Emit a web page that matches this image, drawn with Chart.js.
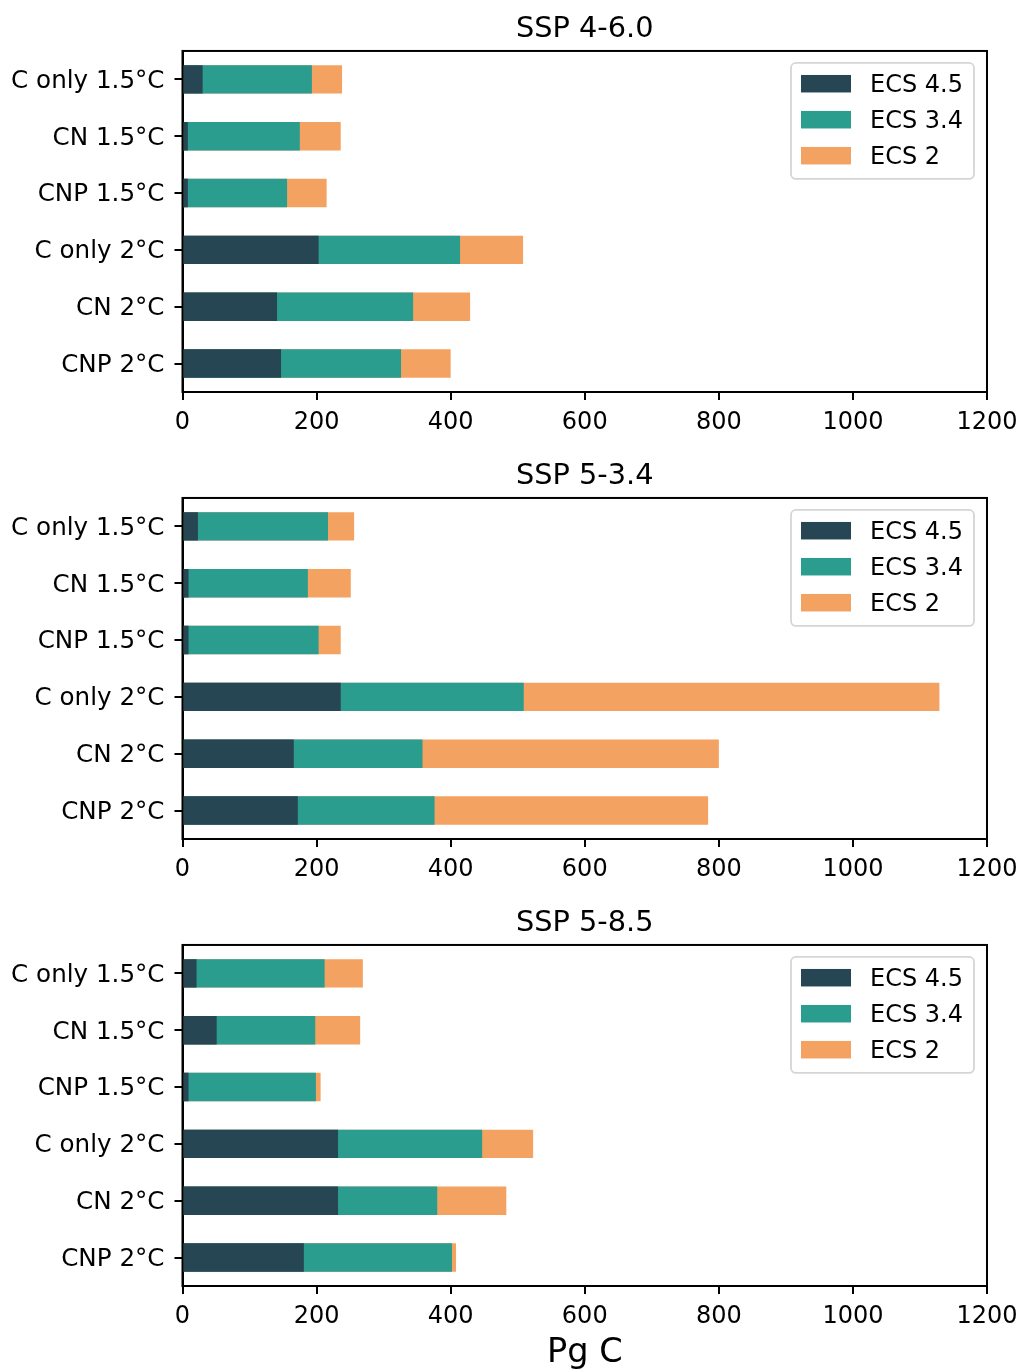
<!DOCTYPE html>
<html>
<head>
<meta charset="utf-8">
<title>Land carbon removal</title>
<script src="https://cdn.jsdelivr.net/npm/chart.js@4.4.1/dist/chart.umd.min.js"></script>
<style>
    body { margin: 0; background: #fff; }
    canvas { position: absolute; left: 0; }
</style>
</head>
<body>
<canvas id="ssp460" width="1021" height="447" style="top:0px"></canvas>
<canvas id="ssp534" width="1021" height="447" style="top:447px"></canvas>
<canvas id="ssp585" width="1021" height="476" style="top:894px"></canvas>
<script>
'use strict';

var categories = [ 'C only 1.5°C', 'CN 1.5°C', 'CNP 1.5°C', 'C only 2°C', 'CN 2°C', 'CNP 2°C' ];
var seriesLabels = [ 'ECS 4.5', 'ECS 3.4', 'ECS 2' ];
var xTicks = [ 0, 200, 400, 600, 800, 1000, 1200 ];

// SSP 4-6.0
var ssp460_ecs45 = [ 30, 8, 8, 203, 141, 147 ];
var ssp460_ecs34 = [ 193, 175, 156, 414, 344, 326 ];
var ssp460_ecs2 = [ 238, 236, 215, 508, 429, 400 ];

// SSP 5-3.4
var ssp534_ecs45 = [ 23, 9, 9, 236, 166, 172 ];
var ssp534_ecs34 = [ 217, 187, 203, 509, 358, 376 ];
var ssp534_ecs2 = [ 256, 251, 236, 1129, 800, 784 ];

// SSP 5-8.5
var ssp585_ecs45 = [ 21, 51, 9, 232, 232, 181 ];
var ssp585_ecs34 = [ 212, 198, 199, 447, 380, 402 ];
var ssp585_ecs2 = [ 269, 265, 206, 523, 483, 408 ];

var colors = [ '#264653', '#2a9d8f', '#f4a261' ];
var FONT = 'DejaVu Sans';

// box around the plot area and a legend in the upper right corner
var frameAndLegend = {
    id: 'frameAndLegend',
    afterDraw: function( chart ) {
        var ctx = chart.ctx;
        var a = chart.chartArea;
        ctx.save();
        ctx.strokeStyle = '#000';
        ctx.lineWidth = 2;
        ctx.strokeRect( a.left, a.top, a.right - a.left, a.bottom - a.top );

        // legend frame
        var fx = a.right - 196, fy = a.top + 12, fw = 183, fh = 116, r = 5;
        ctx.beginPath();
        ctx.moveTo( fx + r, fy );
        ctx.arcTo( fx + fw, fy, fx + fw, fy + fh, r );
        ctx.arcTo( fx + fw, fy + fh, fx, fy + fh, r );
        ctx.arcTo( fx, fy + fh, fx, fy, r );
        ctx.arcTo( fx, fy, fx + fw, fy, r );
        ctx.closePath();
        ctx.fillStyle = 'rgba(255,255,255,0.8)';
        ctx.fill();
        ctx.strokeStyle = '#d5d5d5';
        ctx.lineWidth = 1.8;
        ctx.stroke();

        ctx.font = '24px "' + FONT + '"';
        ctx.textAlign = 'left';
        ctx.textBaseline = 'middle';
        chart.data.datasets.forEach( function( ds, i ) {
            var cy = a.top + 33 + i * 36;
            ctx.fillStyle = ds.backgroundColor;
            ctx.fillRect( a.right - 186, cy - 9, 50, 17.5 );
            ctx.fillStyle = '#000';
            ctx.fillText( ds.label, a.right - 117, cy + 1.5 );
        });
        ctx.restore();
    }
};

function renderPanel( id, title, values, showXTitle ) {
    var canvas = document.getElementById( id );
    var xHeight = canvas.height - 392;
    var datasets = values.map( function( v, i ) {
        return {
            label: seriesLabels[ i ],
            data: v,
            backgroundColor: colors[ i ],
            borderWidth: 0,
            categoryPercentage: 1.0,
            barPercentage: 0.5
        };
    });

    return new Chart( canvas.getContext( '2d' ), {
        type: 'bar',
        data: { labels: categories, datasets: datasets },
        plugins: [ frameAndLegend ],
        options: {
            indexAxis: 'y',
            responsive: false,
            animation: false,
            devicePixelRatio: 1,
            layout: { padding: { left: 0, right: 34, top: 0, bottom: 0 } },
            plugins: {
                legend: { display: false },
                tooltip: { enabled: false },
                title: {
                    display: true,
                    text: title,
                    fullSize: false,
                    color: '#000',
                    font: { family: FONT, size: 28.8, weight: 'normal' },
                    padding: { top: 12, bottom: 4.4 }
                }
            },
            scales: {
                x: {
                    type: 'linear',
                    min: 0,
                    max: 1200,
                    stacked: false,
                    afterBuildTicks: function( scale ) {
                        scale.ticks = xTicks.map( function( v ) { return { value: v }; });
                    },
                    afterFit: function( scale ) {
                        // the 1200 label may hang over the right margin
                        scale.height = xHeight;
                        scale.paddingLeft = 0;
                        scale.paddingRight = 0;
                    },
                    grid: { display: true, drawOnChartArea: false, drawTicks: true, tickLength: 8, lineWidth: 2, color: '#000' },
                    border: { display: true, color: '#000', width: 2 },
                    ticks: {
                        color: '#000',
                        padding: 8,
                        maxRotation: 0,
                        font: { family: FONT, size: 24 },
                        callback: function( v ) { return String( v ); }
                    },
                    title: {
                        display: showXTitle,
                        text: 'Pg C',
                        color: '#000',
                        font: { family: FONT, size: 33.6, lineHeight: 1.0 },
                        padding: { top: 0, bottom: 0 }
                    }
                },
                y: {
                    stacked: true,
                    afterFit: function( scale ) { scale.width = 182.5; },
                    grid: { display: true, offset: false, drawOnChartArea: false, drawTicks: true, tickLength: 8, lineWidth: 2, color: '#000' },
                    border: { display: true, color: '#000', width: 2 },
                    ticks: { color: '#000', padding: 10, labelOffset: 2, font: { family: FONT, size: 24.6 } }
                }
            }
        }
    });
}

renderPanel( 'ssp460', 'SSP 4-6.0', [ ssp460_ecs45, ssp460_ecs34, ssp460_ecs2 ], false );
renderPanel( 'ssp534', 'SSP 5-3.4', [ ssp534_ecs45, ssp534_ecs34, ssp534_ecs2 ], false );
renderPanel( 'ssp585', 'SSP 5-8.5', [ ssp585_ecs45, ssp585_ecs34, ssp585_ecs2 ], true );
</script>
</body>
</html>
